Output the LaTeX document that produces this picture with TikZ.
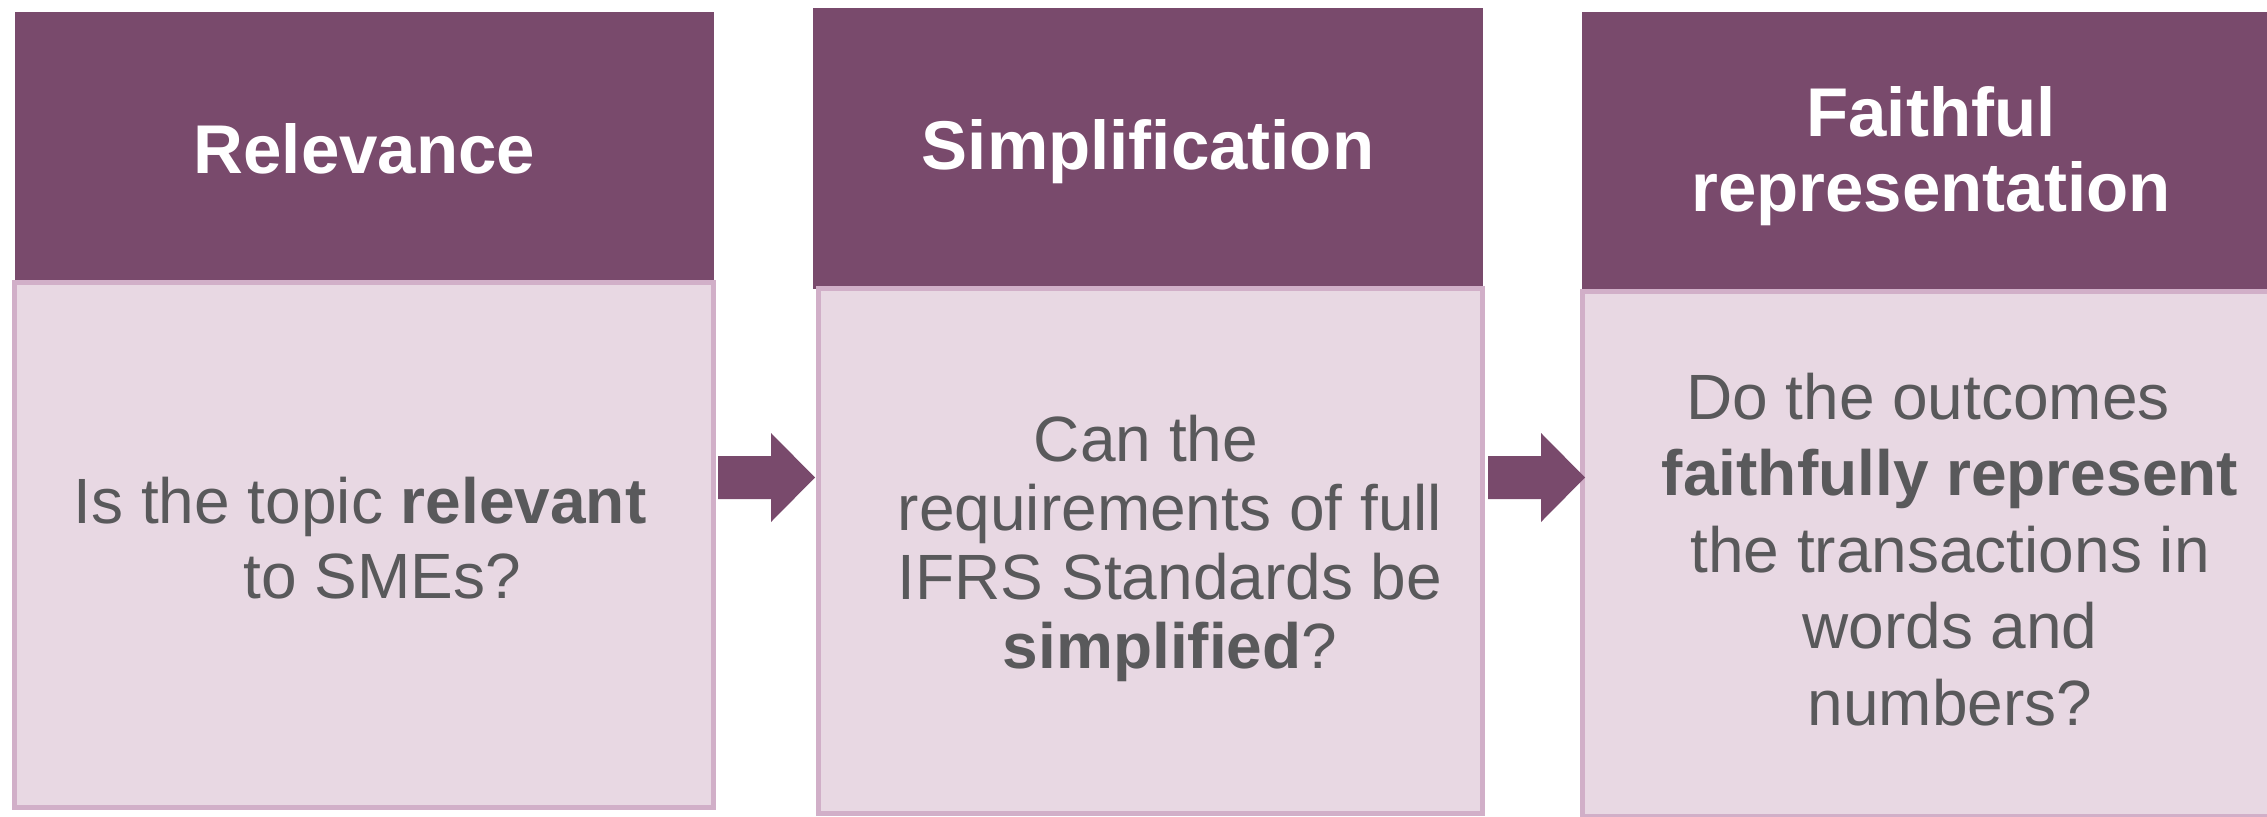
\documentclass[tikz,border=0pt]{standalone}
\usepackage{fontspec}
\setmainfont{Liberation Sans}
\definecolor{hdr}{RGB}{121,74,108}
\definecolor{bodyfill}{RGB}{232,216,227}
\definecolor{bodyline}{RGB}{209,175,200}
\definecolor{txt}{RGB}{89,89,91}
\newcommand\ctrlines[1]{\vtop{\halign{\hfil##\hfil\cr#1\crcr}}}
\newcommand\blockarrowpath[1]{(#1) ++(0,-21.5) -- ++(53,0) -- ++(0,-23) -- ++(44,44.5) -- ++(-44,44.5) -- ++(0,-23) -- ++(-53,0) -- cycle}
\begin{document}
\begin{tikzpicture}[x=1bp,y=-1bp,
  header/.style={fill=hdr, draw=none, rectangle, inner sep=0pt, outer sep=0pt},
  bodybox/.style={fill=bodyfill, draw=bodyline, line width=5bp, rectangle, inner sep=0pt, outer sep=0pt},
  headtext/.style={text=white, font=\fontsize{69bp}{75bp}\selectfont\bfseries, anchor=base, inner sep=0pt},
  bodytext/.style={text=txt, anchor=base, inner sep=0pt},
  blockarrow/.style={fill=hdr, draw=none}]
\useasboundingbox (0,0) rectangle (2267,816);
\clip (0,0) rectangle (2267,816);
% headers
\node[header, minimum width=699bp, minimum height=271bp] (h1) at (364.5,147.5) {};
\node[header, minimum width=670bp, minimum height=281bp] (h2) at (1148,148.5) {};
\node[header, minimum width=698bp, minimum height=279bp] (h3) at (1931,151.5) {};
% bodies
\node[bodybox, minimum width=698.5bp, minimum height=525bp] (b1) at (364.25,545) {};
\node[bodybox, minimum width=664.5bp, minimum height=525bp] (b2) at (1150.25,551) {};
\node[bodybox, minimum width=702.5bp, minimum height=525bp] (b3) at (1933.75,553.5) {};
% arrows
\coordinate (a1) at (718,477.5);
\coordinate (a2) at (1488,477.5);
\path[blockarrow] \blockarrowpath{a1};
\path[blockarrow] \blockarrowpath{a2};
% heading texts
\node[headtext] (h1t) at (364.5,173) {Relevance};
\node[headtext] (h2t) at (1148,169) {Simplification};
\node[headtext] (h3t) at (1931,136) {\ctrlines{Faithful\cr representation}};
% body texts
\node[bodytext, font=\fontsize{64bp}{75bp}\selectfont] (t1) at (382,523)
  {\ctrlines{Is the topic \textbf{relevant}\hspace*{44bp}\cr to SMEs?}};
\node[bodytext, font=\fontsize{64bp}{69bp}\selectfont] (t2) at (1170,461)
  {\ctrlines{Can the\hspace*{48bp}\cr requirements of full\cr IFRS Standards be\cr \textbf{simplified}?}};
\node[bodytext, font=\fontsize{64bp}{76.5bp}\selectfont] (t3) at (1950,419)
  {\ctrlines{Do the outcomes\hspace*{44bp}\cr \textbf{faithfully represent}\cr the transactions in\cr words and\cr numbers?}};
\end{tikzpicture}
\end{document}
